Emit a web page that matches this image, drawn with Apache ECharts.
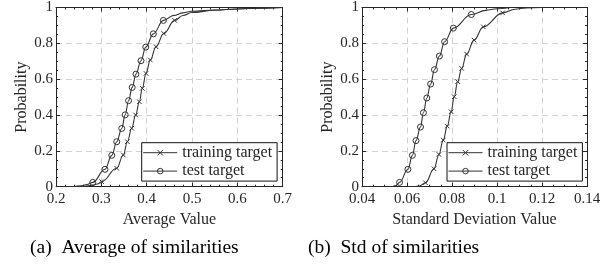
<!DOCTYPE html>
<html>
<head>
<meta charset="utf-8">
<script src="https://cdn.jsdelivr.net/npm/echarts@6/dist/echarts.min.js"></script>
<style>
html,body{margin:0;padding:0;background:#fff;}
#c{width:616px;height:267px;}
</style>
</head>
<body>
<div id="c"></div>
<script>
// ---- data ----
const probTicks = [0, 0.2, 0.4, 0.6, 0.8, 1];
const avgTicks = [0.2, 0.3, 0.4, 0.5, 0.6, 0.7];
const stdTicks = [0.04, 0.06, 0.08, 0.1, 0.12, 0.14];
const seriesNames = ['training target', 'test target'];
const captions = ['(a)\u2002Average of similarities', '(b)\u2002Std of similarities'];
const axisTitles = ['Average Value', 'Standard Deviation Value', 'Probability'];

// (a) average — training target (x markers)
const avgTrainMarkX = [0.3008, 0.3338, 0.3485, 0.3574, 0.3670, 0.3757, 0.3838, 0.3904, 0.3985, 0.4080, 0.4206, 0.4376, 0.4618];
const avgTrainMarkY = [0.028, 0.103, 0.177, 0.251, 0.326, 0.400, 0.474, 0.549, 0.632, 0.707, 0.781, 0.855, 0.928];
const avgTrainTailX = [0.235, 0.26, 0.28, 0.291, 0.48, 0.50, 0.55, 0.60, 0.65, 0.70];
const avgTrainTailY = [0.000, 0.002, 0.008, 0.015, 0.955, 0.972, 0.985, 0.992, 0.996, 1.000];
// (a) average — test target (o markers)
const avgTestMarkX = [0.2810, 0.3080, 0.3230, 0.3340, 0.3450, 0.3526, 0.3600, 0.3680, 0.3763, 0.3875, 0.3980, 0.4147, 0.4368];
const avgTestMarkY = [0.024, 0.097, 0.175, 0.251, 0.325, 0.401, 0.480, 0.554, 0.628, 0.703, 0.779, 0.853, 0.928];
const avgTestTailX = [0.215, 0.24, 0.255, 0.268, 0.46, 0.48, 0.50, 0.55, 0.60, 0.65, 0.70];
const avgTestTailY = [0.000, 0.001, 0.005, 0.012, 0.956, 0.970, 0.979, 0.986, 0.992, 0.996, 1.000];

// (b) std — training target
const stdTrainMarkX = [0.0682, 0.0720, 0.0742, 0.0761, 0.0779, 0.0796, 0.0810, 0.0825, 0.0843, 0.0865, 0.0898, 0.0939, 0.1025];
const stdTrainMarkY = [0.022, 0.100, 0.180, 0.260, 0.338, 0.418, 0.502, 0.586, 0.660, 0.740, 0.818, 0.892, 0.970];
const stdTrainTailX = [0.0630, 0.0655, 0.108, 0.113, 0.120];
const stdTrainTailY = [0.000, 0.004, 0.990, 0.998, 1.000];
// (b) std — test target
const stdTestMarkX = [0.0567, 0.0604, 0.0624, 0.0640, 0.0660, 0.0673, 0.0688, 0.0705, 0.0722, 0.0744, 0.0767, 0.0806, 0.0886];
const stdTestMarkY = [0.024, 0.097, 0.175, 0.257, 0.333, 0.413, 0.495, 0.573, 0.653, 0.729, 0.809, 0.885, 0.961];
const stdTestTailX = [0.0535, 0.0552, 0.095, 0.100, 0.106];
const stdTestTailY = [0.000, 0.007, 0.984, 0.993, 1.000];

// ---- build ----
function build(mx, my, tx, ty) {
  const pts = [];
  mx.forEach((x, i) => pts.push({ value: [x, my[i]] }));
  tx.forEach((x, i) => pts.push({ value: [x, ty[i]], symbol: 'none' }));
  pts.sort((a, b) => a.value[0] - b.value[0]);
  return pts;
}

const FONT = '"Liberation Serif", "Times New Roman", serif';
const LINE = '#333333';
const AXIS = '#262626';
const CROSS = 'path://M0,0L10,10M10,0L0,10';

const grids = [
  { left: 56, top: 7.3, width: 226.7, height: 179.4 },
  { left: 362, top: 7.3, width: 225, height: 179.4 }
];

function xAx(gi, ticks, minorSplit, name, pos) {
  const main = pos === 'bottom';
  return {
    type: 'value', gridIndex: gi, position: pos,
    min: ticks[0], max: ticks[ticks.length - 1], interval: +(ticks[1] - ticks[0]).toFixed(6),
    name: main ? name : '', nameLocation: 'middle', nameGap: 21,
    nameTextStyle: { fontFamily: FONT, fontSize: 16, color: '#262626' },
    axisLine: { show: true, onZero: false, lineStyle: { color: AXIS, width: 1 } },
    axisTick: { show: true, inside: true, length: 4, lineStyle: { color: AXIS } },
    minorTick: { show: true, splitNumber: minorSplit, length: 2, lineStyle: { color: AXIS } },
    axisLabel: { show: main, margin: 5, fontFamily: FONT, fontSize: 15, color: '#262626',
      formatter: v => String(+v.toFixed(4)) },
    splitLine: { show: main, lineStyle: { color: '#d2d2d2', type: [6, 4], width: 1 } },
    minorSplitLine: { show: false }
  };
}
function yAx(gi, pos) {
  const main = pos === 'left';
  return {
    type: 'value', gridIndex: gi, position: pos,
    min: probTicks[0], max: probTicks[probTicks.length - 1], interval: 0.2,
    name: main ? axisTitles[2] : '', nameLocation: 'middle', nameGap: 26, nameRotate: 90,
    nameTextStyle: { fontFamily: FONT, fontSize: 16, color: '#262626' },
    axisLine: { show: true, onZero: false, lineStyle: { color: AXIS, width: 1 } },
    axisTick: { show: true, inside: true, length: 4, lineStyle: { color: AXIS } },
    minorTick: { show: true, splitNumber: 4, length: 2, lineStyle: { color: AXIS } },
    axisLabel: { show: main, margin: 3, fontFamily: FONT, fontSize: 15, color: '#262626',
      formatter: v => String(+v.toFixed(4)) },
    splitLine: { show: main, lineStyle: { color: '#d2d2d2', type: [6, 4], width: 1 } }
  };
}

function lineSeries(name, data, xi, yi, isCross) {
  return {
    type: 'line', name, xAxisIndex: xi, yAxisIndex: yi, data,
    smooth: 0.4, smoothMonotone: 'x',
    symbol: isCross ? CROSS : 'circle',
    symbolSize: isCross ? 4.5 : 6,
    showSymbol: true,
    lineStyle: { color: LINE, width: 1.1 },
    itemStyle: isCross
      ? { color: LINE, borderColor: LINE, borderWidth: 1 }
      : { color: 'rgba(255,255,255,0)', borderColor: LINE, borderWidth: 1 },
    emphasis: { disabled: true },
    animation: false, z: 3
  };
}

function legend(left) {
  return {
    left, top: 142.7, orient: 'vertical',
    data: seriesNames.map(n => ({ name: n })),
    padding: [2, 5, 2, 1], itemGap: 2.4, itemWidth: 34, itemHeight: 7,
    backgroundColor: '#fff', borderColor: '#111', borderWidth: 1, borderRadius: 0,
    lineStyle: { width: 1 },
    itemStyle: { borderWidth: 1 },
    textStyle: { fontFamily: FONT, fontSize: 16, color: '#262626' },
    selectedMode: false, z: 5
  };
}

const option = {
  backgroundColor: '#fff',
  animation: false,
  grid: grids,
  xAxis: [
    xAx(0, avgTicks, 5, axisTitles[0], 'bottom'),
    xAx(0, avgTicks, 5, '', 'top'),
    xAx(1, stdTicks, 4, axisTitles[1], 'bottom'),
    xAx(1, stdTicks, 4, '', 'top')
  ],
  yAxis: [yAx(0, 'left'), yAx(0, 'right'), yAx(1, 'left'), yAx(1, 'right')],
  legend: [legend(141.7), legend(447)],
  series: [
    lineSeries(seriesNames[0], build(avgTrainMarkX, avgTrainMarkY, avgTrainTailX, avgTrainTailY), 0, 0, true),
    lineSeries(seriesNames[1], build(avgTestMarkX, avgTestMarkY, avgTestTailX, avgTestTailY), 0, 0, false),
    lineSeries(seriesNames[0], build(stdTrainMarkX, stdTrainMarkY, stdTrainTailX, stdTrainTailY), 2, 2, true),
    lineSeries(seriesNames[1], build(stdTestMarkX, stdTestMarkY, stdTestTailX, stdTestTailY), 2, 2, false)
  ],
  graphic: [
    { type: 'text', left: 30, top: 238, style: { text: captions[0], font: '19.5px ' + FONT, fill: '#000' } },
    { type: 'text', left: 308, top: 238, style: { text: captions[1], font: '19.5px ' + FONT, fill: '#000' } }
  ]
};

const chart = echarts.init(document.getElementById('c'), null, { renderer: 'canvas' });
chart.setOption(option);
</script>
</body>
</html>
